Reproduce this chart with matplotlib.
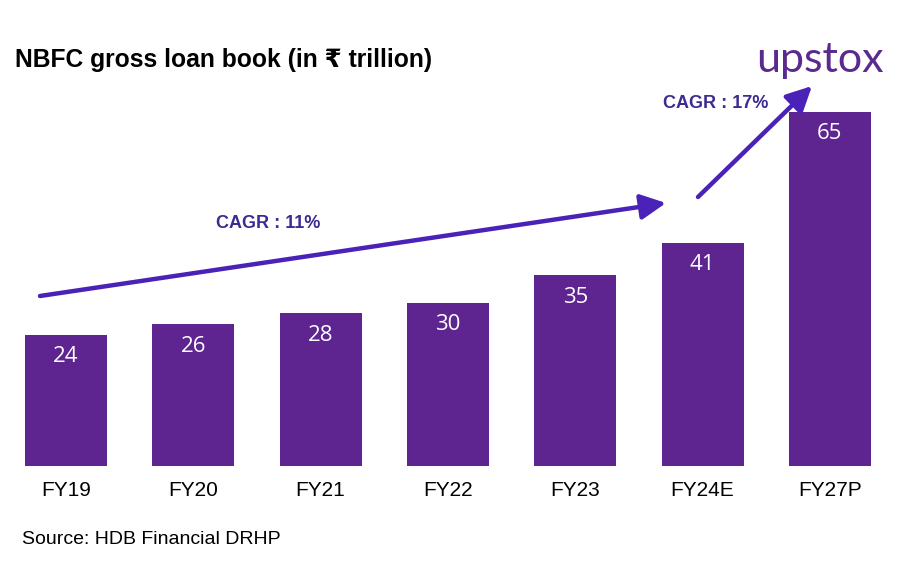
import matplotlib.pyplot as plt

years = ['FY19', 'FY20', 'FY21', 'FY22', 'FY23', 'FY24E', 'FY27P']
loan_book = [24, 26, 28, 30, 35, 41, 65]
cagr_labels = ['CAGR : 11%', 'CAGR : 17%']

bar_color = '#5e2590'
arrow_color = '#4a22b8'
text_purple = '#3a2c93'

plt.rcParams['font.family'] = ['Liberation Sans', 'DejaVu Sans']

W, H = 903, 566
fig = plt.figure(figsize=(W / 100, H / 100), dpi=100)
ax = fig.add_axes([2.3 / W, 100 / H, 891.3 / W, 436 / H])

x = range(len(years))
ax.bar(x, loan_book, width=0.644, color=bar_color)
ax.set_xlim(-0.5, len(years) - 0.5)
ax.set_ylim(0, 80)

# value labels inside the bars
for xi, v in zip(x, loan_book):
    ax.text(xi, v - 4, str(v), ha='center', va='center', color='white',
            fontsize=16, family=['Open Sans', 'DejaVu Sans'])

ax.set_xticks(list(x))
ax.set_xticklabels(years, fontsize=15)
ax.tick_params(axis='x', length=0, pad=11)
ax.set_yticks([])
for s in ax.spines.values():
    s.set_visible(False)


# pixel position (from top-left) -> figure fraction
def px(xp, yp):
    return (xp / W, 1 - yp / H)


arrow_kw = dict(arrowstyle='-|>,head_length=0.9,head_width=0.45',
                mutation_scale=17, color=arrow_color, lw=3.2,
                shrinkA=0, shrinkB=0)
ax.annotate('', xy=px(666, 203), xytext=px(40, 296),
            xycoords='figure fraction', textcoords='figure fraction',
            arrowprops=arrow_kw)
ax.annotate('', xy=px(812, 86), xytext=px(698, 197),
            xycoords='figure fraction', textcoords='figure fraction',
            arrowprops=arrow_kw)

fig.text(*px(268, 223), cagr_labels[0], ha='center', va='center',
         fontsize=13, fontweight='bold', color=text_purple)
fig.text(*px(716, 104), cagr_labels[1], ha='center', va='center',
         fontsize=13, fontweight='bold', color=text_purple)

fig.text(*px(15, 60), 'NBFC gross loan book (in ₹ trillion)',
         ha='left', va='center', fontsize=17.7, fontweight='bold')
fig.text(*px(22, 540), 'Source: HDB Financial DRHP',
         ha='left', va='center', fontsize=14)

# logo
fig.text(*px(820, 60), 'upstox', ha='center', va='center',
         fontsize=31, color='#5b2a8e', family=['Lato', 'DejaVu Sans'])

fig.savefig('out.png', dpi=100)
